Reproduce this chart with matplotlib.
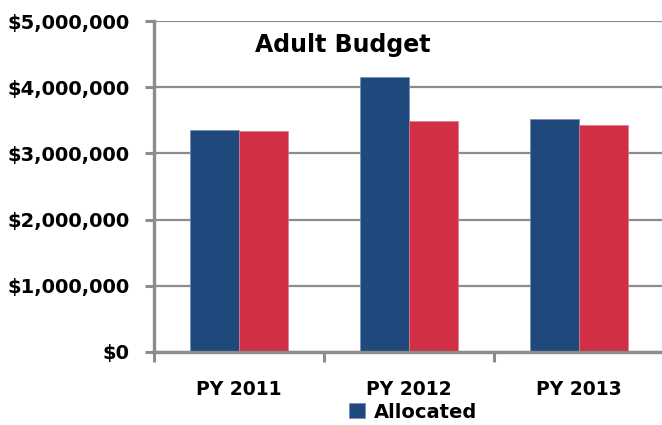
import numpy as np
import matplotlib
matplotlib.use('Agg')
from matplotlib import pyplot as plt
from matplotlib.ticker import FuncFormatter, FixedLocator

# data
years = ['PY 2011', 'PY 2012', 'PY 2013']
allocated = [3360000, 4150000, 3515000]
expended = [3335000, 3485000, 3425000]

blue = '#1F497D'
red = '#D12F45'
grey = '#8C8C8C'

plt.rcParams['font.family'] = ['DejaVu Sans']
plt.rcParams['font.weight'] = 'bold'

fig = plt.figure(figsize=(6.62, 4.25), dpi=100)
ax = fig.add_axes([154/662, 1-352/425, 510/662, 331/425])

x = np.arange(len(years))
w = 0.288
ax.bar(x - w/2, allocated, w, color=blue, edgecolor='#6f8fb8', linewidth=0.5,
       label='Allocated', zorder=3)
ax.bar(x + w/2, expended, w, color=red, edgecolor='#e07a88', linewidth=0.5,
       label='Expended', zorder=3)

ax.set_xlim(-0.5, 2.5)
ax.set_ylim(0, 5000000)
ax.set_yticks(np.arange(0, 5000001, 1000000))
ax.yaxis.set_major_formatter(FuncFormatter(lambda v, p: '${:,.0f}'.format(v)))
ax.yaxis.grid(True, color=grey, linewidth=1.6, zorder=0)

ax.set_xticks(x)
ax.set_xticklabels(years)
ax.xaxis.set_minor_locator(FixedLocator([-0.5, 0.5, 1.5, 2.5]))
ax.tick_params(axis='x', which='major', length=0, pad=20, labelsize=13.5)
ax.tick_params(axis='x', which='minor', length=7, width=2.2, color=grey)
ax.tick_params(axis='y', length=6.5, width=2.2, color=grey, pad=11, labelsize=14)

for s in ['top', 'right']:
    ax.spines[s].set_visible(False)
for s in ['left', 'bottom']:
    ax.spines[s].set_color(grey)
    ax.spines[s].set_linewidth(2.4)
    ax.spines[s].set_zorder(4)

ax.text(0.094, 4640000, 'Adult Budget', fontsize=17, fontweight='bold',
        ha='left', va='center')

h, l = ax.get_legend_handles_labels()
fig.legend(h[:1], l[:1], loc='center', bbox_to_anchor=(413/662, 1-412/425),
           frameon=False, fontsize=14, handlelength=0.8, handleheight=0.8,
           handletextpad=0.45, borderpad=0)

fig.savefig('out.png', dpi=100)
